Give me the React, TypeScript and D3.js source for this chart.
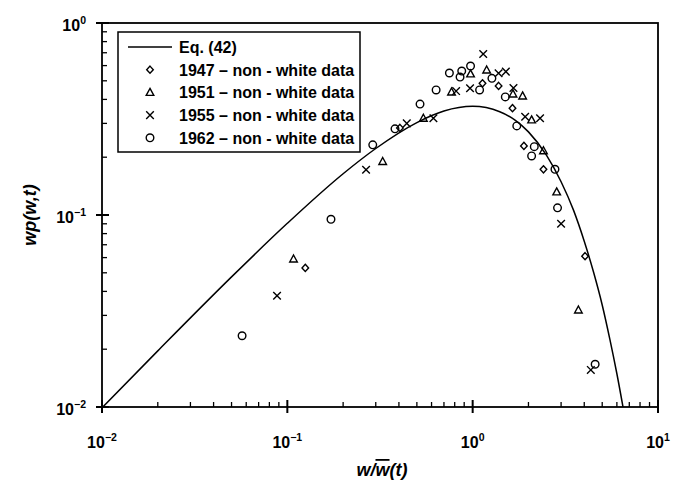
import React from 'react';
import * as d3 from 'd3';

// Eq. (42) curve
const curveW = [0.01, 0.02, 0.05, 0.1, 0.2, 0.3, 0.5, 0.7, 1.0, 1.4, 1.7, 2.0, 2.5, 3.0, 3.5, 4.0, 4.5, 5.0, 5.5, 6.0, 6.7];
const curveWP = [0.0099, 0.0196, 0.0476, 0.0905, 0.164, 0.222, 0.303, 0.348, 0.368, 0.345, 0.311, 0.271, 0.205, 0.149, 0.106, 0.073, 0.05, 0.034, 0.0225, 0.0149, 0.0083];

// 1947 - non-white data (diamonds)
const w1947 = [0.125, 0.405, 1.13, 1.38, 1.64, 1.89, 2.41, 4.04];
const wp1947 = [0.053, 0.284, 0.485, 0.47, 0.36, 0.229, 0.173, 0.061];

// 1951 - non-white data (triangles)
const w1951 = [0.108, 0.327, 0.542, 0.769, 0.974, 1.19, 1.65, 1.86, 2.08, 2.41, 2.84, 3.72];
const wp1951 = [0.059, 0.19, 0.319, 0.437, 0.543, 0.569, 0.427, 0.417, 0.313, 0.216, 0.132, 0.032];

// 1955 - non-white data (crosses)
const w1955 = [0.088, 0.266, 0.441, 0.614, 0.814, 0.968, 1.14, 1.38, 1.51, 1.66, 1.92, 2.31, 3.0, 4.34];
const wp1955 = [0.038, 0.172, 0.3, 0.319, 0.442, 0.457, 0.69, 0.547, 0.558, 0.459, 0.325, 0.319, 0.09, 0.0156];

// 1962 - non-white data (circles)
const w1962 = [0.057, 0.172, 0.289, 0.381, 0.52, 0.635, 0.749, 0.873, 0.855, 0.974, 1.09, 1.27, 1.5, 1.73, 2.15, 2.08, 2.78, 2.87, 4.58];
const wp1962 = [0.0235, 0.095, 0.232, 0.281, 0.378, 0.448, 0.549, 0.562, 0.523, 0.597, 0.448, 0.515, 0.412, 0.291, 0.227, 0.203, 0.173, 0.109, 0.0167];

const xDecades = [-2, -1, 0, 1];
const yDecades = [-2, -1, 0];
const legendLabels = ['Eq. (42)', '1947 \u2013 non - white data', '1951 \u2013 non - white data', '1955 \u2013 non - white data', '1962 \u2013 non - white data'];

const W = 691;
const H = 483;
const L = 102, R = 658, T = 23, B = 407;
const font = '"Liberation Sans", Arial, sans-serif';

type Kind = 'diamond' | 'triangle' | 'cross' | 'circle';

const Marker = ({ kind, x, y }: { kind: Kind; x: number; y: number }) => {
  const s = { fill: 'none', stroke: '#000', strokeWidth: 1.4 };
  if (kind === 'circle') return <circle cx={x} cy={y} r={3.8} {...s} />;
  if (kind === 'diamond') return <path d={`M${x},${y - 3.6}L${x + 3.3},${y}L${x},${y + 3.6}L${x - 3.3},${y}Z`} {...s} />;
  if (kind === 'triangle') return <path d={`M${x},${y - 4}L${x + 3.8},${y + 3}L${x - 3.8},${y + 3}Z`} {...s} />;
  return <path d={`M${x - 3.8},${y - 3.8}L${x + 3.8},${y + 3.8}M${x + 3.8},${y - 3.8}L${x - 3.8},${y + 3.8}`} {...s} />;
};

export default function App() {
  const x = d3.scaleLog().domain([0.01, 10]).range([L, R]);
  const y = d3.scaleLog().domain([0.01, 1]).range([B, T]);

  const line = d3.line<number>()
    .x((_, i) => x(curveW[i]))
    .y((d) => y(d))
    .curve(d3.curveMonotoneX);

  const xMinor: number[] = [];
  xDecades.slice(0, -1).forEach((e) => {
    for (let k = 2; k <= 9; k++) xMinor.push(k * Math.pow(10, e));
  });
  const yMinor: number[] = [];
  yDecades.slice(0, -1).forEach((e) => {
    for (let k = 2; k <= 9; k++) yMinor.push(k * Math.pow(10, e));
  });

  const series: { kind: Kind; w: number[]; wp: number[] }[] = [
    { kind: 'diamond', w: w1947, wp: wp1947 },
    { kind: 'triangle', w: w1951, wp: wp1951 },
    { kind: 'cross', w: w1955, wp: wp1955 },
    { kind: 'circle', w: w1962, wp: wp1962 },
  ];
  const legendKinds: Kind[] = ['diamond', 'triangle', 'cross', 'circle'];

  return (
    <svg width={W} height={H} style={{ position: 'absolute', left: 0, top: 0, background: '#fff' }} fontFamily={font}>
      <defs>
        <clipPath id="plot">
          <rect x={L} y={T} width={R - L} height={B - T} />
        </clipPath>
      </defs>

      {/* frame */}
      <rect x={L} y={T} width={R - L} height={B - T} fill="none" stroke="#000" strokeWidth={1.8} />

      {/* x ticks */}
      {xMinor.map((v) => (
        <line key={'xm' + v} x1={x(v)} x2={x(v)} y1={B} y2={B - 5} stroke="#000" strokeWidth={1.3} />
      ))}
      {xDecades.map((e) => (
        <g key={'xM' + e}>
          <line x1={x(Math.pow(10, e))} x2={x(Math.pow(10, e))} y1={B + 6} y2={B - 7} stroke="#000" strokeWidth={2} />
          <text x={x(Math.pow(10, e))} y={448} textAnchor="middle" fontSize={16} fontWeight="bold">
            10<tspan dy={-7} fontSize={10.5}>{e < 0 ? '\u2212' + Math.abs(e) : String(e)}</tspan>
          </text>
        </g>
      ))}

      {/* y ticks */}
      {yMinor.map((v) => (
        <line key={'ym' + v} x1={L} x2={L + 5} y1={y(v)} y2={y(v)} stroke="#000" strokeWidth={1.3} />
      ))}
      {yDecades.map((e) => (
        <g key={'yM' + e}>
          <line x1={L - 6} x2={L + 7} y1={y(Math.pow(10, e))} y2={y(Math.pow(10, e))} stroke="#000" strokeWidth={2} />
          <text x={86} y={y(Math.pow(10, e)) + 8} textAnchor="end" fontSize={16} fontWeight="bold">
            10<tspan dy={-7} fontSize={10.5}>{e < 0 ? '\u2212' + Math.abs(e) : String(e)}</tspan>
          </text>
        </g>
      ))}

      {/* curve */}
      <path d={line(curveWP) || ''} fill="none" stroke="#000" strokeWidth={1.5} clipPath="url(#plot)" />

      {/* data points */}
      {series.map((s) =>
        s.w.map((v, i) => <Marker key={s.kind + i} kind={s.kind} x={x(v)} y={y(s.wp[i])} />)
      )}

      {/* legend */}
      <rect x={118} y={32} width={242} height={120} fill="#fff" stroke="#000" strokeWidth={1.5} />
      {legendLabels.map((t, i) => {
        const cy = 47 + i * 22.7;
        return (
          <g key={t}>
            {i === 0 ? (
              <line x1={128} x2={172} y1={cy} y2={cy} stroke="#000" strokeWidth={1.5} />
            ) : (
              <Marker kind={legendKinds[i - 1]} x={150} y={cy} />
            )}
            <text x={179} y={cy + 5.8} fontSize={16} fontWeight="bold">{t}</text>
          </g>
        );
      })}

      {/* axis titles */}
      <text x={382} y={476} textAnchor="middle" fontSize={18} fontWeight="bold" fontStyle="italic">
        w/<tspan style={{ textDecoration: 'overline' }}>w</tspan>(t)
      </text>
      <text transform="translate(36,215) rotate(-90)" textAnchor="middle" fontSize={18} fontWeight="bold" fontStyle="italic">
        wp(w,t)
      </text>
    </svg>
  );
}
